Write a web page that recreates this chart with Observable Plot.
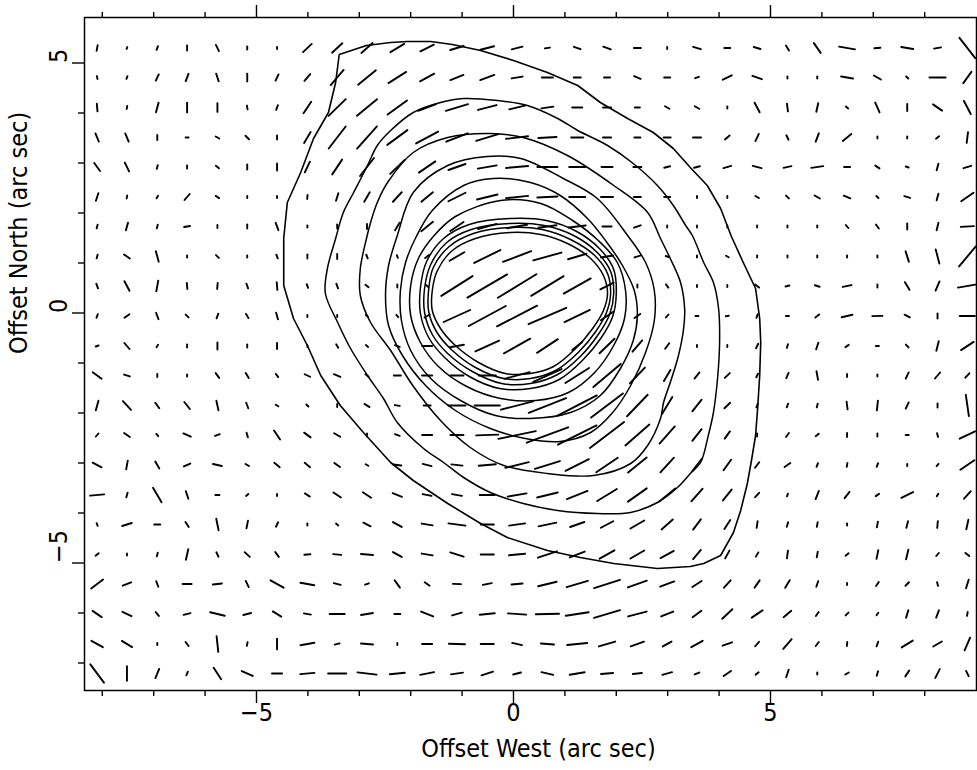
<!DOCTYPE html>
<html><head><meta charset="utf-8">
<script src="https://cdn.jsdelivr.net/npm/d3@7"></script>
<script src="https://cdn.jsdelivr.net/npm/@observablehq/plot@0.6"></script>
<style>html,body{margin:0;padding:0;background:#fff}svg{display:block}</style>
</head><body><div id="chart"></div>
<script>
// Vector grid positions (arc sec)
const gridX = [-8.10,-7.52,-6.93,-6.35,-5.76,-5.18,-4.60,-4.01,-3.43,-2.85,-2.26,-1.68,-1.10,-0.51,0.07,0.66,1.24,1.82,2.41,2.99,3.57,4.16,4.74,5.33,5.91,6.49,7.08,7.66,8.25,8.83];
const gridY = [5.30,4.71,4.11,3.51,2.92,2.32,1.73,1.13,0.54,-0.06,-0.66,-1.25,-1.85,-2.44,-3.04,-3.64,-4.23,-4.83,-5.42,-6.02,-6.62,-7.21];

// Position angle of each vector (deg, clockwise from north as drawn), one row per gridY
const angles = [
[10,20,20,0,-25,0,0,46,47,48,58,63,73,75,76,80,-70,-70,90,0,-72,90,-73,-30,-34,-80,85,-80,80,-37],
[-15,20,25,20,-18,0,25,40,40,50,57,61,68,69,80,90,90,90,-68,90,70,63,-70,0,0,-80,-60,-45,90,35],
[-5,10,15,0,0,-10,20,33,45,50,53,69,73,75,76,82,90,90,90,-60,-60,0,-27,-7,12,-50,-23,0,-55,-27],
[-22,-22,0,90,-60,-45,0,30,37,41,53,61,68,73,83,87,90,90,90,90,90,50,25,-25,20,50,0,0,50,7],
[-35,-25,15,0,-50,0,0,25,33,37,45,55,70,80,85,90,90,90,90,75,75,73,-75,78,82,90,-55,-70,15,72],
[18,10,30,40,-55,0,0,5,17,30,42,50,63,76,84,87,90,90,90,90,0,0,-60,-45,-60,-68,-45,-72,15,54],
[15,15,15,80,0,0,-20,0,0,0,30,50,55,74,80,82,83,90,70,0,0,0,0,0,0,-40,-35,0,13,87],
[15,-55,-15,0,-45,0,-20,0,0,-20,-20,50,59,63,69,74,73,80,72,-70,0,-60,0,0,0,0,0,-17,-14,39],
[-20,-27,10,-5,5,-20,-5,-20,-20,-50,0,-50,57,59,58,58,60,63,0,-35,0,0,-50,75,-72,78,0,-30,23,80],
[20,55,-20,-45,20,-30,-15,0,0,-45,-40,60,65,61,62,66,64,55,55,40,90,80,20,90,50,77,88,-62,0,90],
[70,-40,30,0,0,0,0,0,-30,-50,-70,90,80,65,60,56,50,45,40,35,0,0,25,15,18,55,90,-42,14,56],
[-53,-72,0,0,-35,-30,-35,-65,-68,-50,90,90,90,90,75,65,57,49,43,30,38,45,25,22,-10,0,0,25,40,42],
[15,-42,-35,-38,-12,-20,-60,-45,0,-57,-80,90,90,90,75,68,62,52,43,31,38,45,20,20,15,-7,6,25,0,-8],
[40,-55,-40,-67,70,-15,-33,-53,-60,0,-70,90,90,88,78,69,63,52,48,41,38,35,0,35,50,0,0,90,-15,64],
[-62,10,-30,65,-77,-58,-50,-50,-53,-60,-83,-75,-83,85,76,72,63,55,50,42,37,35,37,55,20,10,20,0,40,55],
[85,15,-30,-18,90,50,0,-57,-55,-55,-68,-78,-80,90,80,76,68,58,54,50,41,38,42,20,21,37,55,63,30,41],
[-20,72,90,-33,-11,11,25,0,-50,-63,-60,-80,-82,90,82,78,70,62,59,48,36,32,8,15,10,0,10,14,5,12],
[50,0,15,12,-25,-47,-35,85,-85,-85,-60,-80,-72,90,84,71,68,60,59,61,40,28,30,7,10,50,11,13,40,-50],
[52,67,-20,90,83,-25,-60,-80,-75,68,-35,-54,-88,79,85,76,73,72,70,69,57,41,34,30,18,0,33,45,-15,17],
[-55,-64,-38,75,-76,75,-58,-80,90,80,90,-67,73,84,-86,89,81,73,75,67,53,46,55,49,33,45,35,16,20,10],
[-60,-58,0,-37,-6,10,0,80,75,-85,0,90,-88,90,-77,-85,84,73,70,60,60,70,40,40,37,5,20,58,59,23],
[-36,0,22,22,-32,-65,90,85,90,-83,84,79,82,72,75,-77,80,85,84,74,68,54,50,18,0,60,15,33,26,-25]
];

// Vector lengths (polarization, arbitrary units), one row per gridY
const lengths = [
[6,2,4,5,7,3,2,12,14,15,16,15,14,14,11,5,7,8,7,2,8,6,7,6,12,16,6,12,7,26],
[3,3,7,8,8,8,7,9,20,23,21,16,14,15,11,11,7,6,7,6,4,10,10,2,2,12,8,3,16,14],
[8,3,10,10,9,4,5,14,24,26,24,19,23,19,16,12,10,8,5,5,5,2,11,8,9,3,11,7,11,15],
[9,9,5,3,4,5,4,13,28,30,25,25,23,23,22,18,12,8,6,7,8,6,8,5,9,11,2,2,4,11],
[10,10,4,3,4,5,7,12,18,23,20,20,18,19,22,20,16,11,8,6,6,8,9,8,12,6,5,3,7,8],
[8,3,3,8,4,2,2,4,8,11,13,15,19,21,22,20,16,12,7,6,2,2,4,4,6,7,3,6,7,15],
[4,8,4,6,3,4,8,2,4,5,9,15,16,19,20,18,17,9,7,2,2,2,2,2,2,4,5,6,8,13],
[4,7,11,2,4,2,4,4,5,4,3,5,17,29,30,29,19,12,6,3,2,3,2,2,2,2,2,11,15,26],
[5,11,11,6,6,5,8,4,5,4,3,3,37,46,45,38,31,15,3,4,2,2,5,4,5,9,3,9,10,19],
[4,6,7,4,5,5,7,2,2,3,3,6,29,42,45,41,28,15,7,4,3,3,4,3,5,11,10,6,5,15],
[3,8,3,3,7,3,6,2,4,3,5,10,14,26,30,25,13,21,15,7,2,2,5,4,7,4,3,4,10,15],
[11,6,3,2,6,6,4,6,7,4,7,10,13,17,26,31,28,36,22,13,8,7,4,6,9,3,2,7,8,6],
[10,12,7,9,10,6,3,3,3,6,5,7,17,25,33,40,44,40,30,20,15,8,4,4,4,8,10,7,4,22],
[4,7,3,8,5,5,11,8,7,3,5,10,13,22,38,44,43,43,32,23,15,9,3,5,4,4,3,3,4,17],
[10,9,8,7,9,4,7,7,7,3,8,9,11,17,24,26,26,26,24,20,16,13,7,7,4,4,4,2,3,17],
[14,5,17,8,4,3,2,6,9,10,10,9,10,15,19,21,22,23,23,21,17,14,6,3,9,8,4,13,3,10],
[3,10,6,6,12,8,5,2,3,8,10,11,17,13,16,18,15,14,16,15,13,11,7,5,5,2,6,7,7,10],
[4,2,4,11,5,7,6,6,8,12,10,11,14,13,16,20,16,17,16,15,12,9,5,8,6,4,9,10,4,5],
[15,9,6,9,9,7,15,14,7,4,9,6,8,9,11,19,22,27,20,15,11,10,9,9,6,2,5,5,4,9],
[11,10,5,7,15,8,10,7,15,12,6,13,10,15,18,23,23,27,19,13,11,14,13,10,5,4,3,8,8,4],
[13,12,2,5,16,4,11,14,5,12,2,10,16,13,10,13,20,17,14,10,13,10,6,13,5,4,5,13,10,14],
[23,15,10,4,14,12,10,14,18,19,15,14,12,12,8,12,15,12,9,10,5,9,4,8,2,4,5,7,10,6]
];
const arcsecPerUnit = 1 / 51; // drawn vector length per polarization unit

// Intensity contours, outermost first: [x, y] in arc sec
const contour1 = [[-3.39,5.17],[-2.86,5.35],[-2.39,5.41],[-2.06,5.43],[-1.61,5.43],[-1.19,5.37],[-0.64,5.25],[0,5.05],[0.66,4.81],[1.25,4.55],[1.69,4.21],[2.22,3.89],[2.72,3.61],[3.11,3.29],[3.44,2.91],[3.77,2.55],[4.03,2.09],[4.24,1.53],[4.47,1.01],[4.71,0.49],[4.79,-0.11],[4.81,-0.59],[4.79,-1.25],[4.75,-1.91],[4.71,-2.45],[4.63,-2.95],[4.55,-3.41],[4.42,-3.95],[4.28,-4.39],[4.03,-4.85],[3.70,-5.01],[3.44,-5.07],[2.80,-5.11],[1.95,-5.01],[1.30,-4.89],[0.66,-4.75],[-0.12,-4.49],[-0.64,-4.21],[-1.28,-3.81],[-1.95,-3.35],[-2.39,-2.99],[-2.92,-2.39],[-3.37,-1.85],[-3.75,-1.25],[-4.01,-0.65],[-4.28,-0.11],[-4.47,0.55],[-4.47,1.49],[-4.40,2.21],[-4.14,2.81],[-3.89,3.49],[-3.60,4.01],[-3.46,4.61]];
const contour2 = [[-3.46,1.49],[-3.31,2.01],[-3.11,2.41],[-2.84,2.95],[-2.65,3.35],[-2.39,3.65],[-1.95,4.01],[-1.42,4.21],[-0.97,4.29],[-0.31,4.25],[0.27,4.15],[0.86,3.89],[1.25,3.65],[1.83,3.35],[2.33,2.99],[2.80,2.55],[3.11,2.15],[3.35,1.75],[3.48,1.55],[3.70,1.01],[3.89,0.61],[3.99,0.09],[4.01,-0.59],[3.97,-1.31],[3.89,-1.99],[3.79,-2.45],[3.64,-2.99],[3.44,-3.21],[3.19,-3.49],[2.80,-3.79],[2.28,-3.99],[1.63,-4.01],[0.86,-3.95],[0.19,-3.81],[-0.45,-3.59],[-0.97,-3.29],[-1.36,-2.99],[-1.75,-2.71],[-2.26,-2.19],[-2.53,-1.71],[-2.84,-1.25],[-3.17,-0.71],[-3.42,-0.19],[-3.66,0.39],[-3.62,0.89]];
const contour3 = [[-0.45,3.59],[0.19,3.51],[1.05,3.15],[1.95,2.55],[2.61,2.01],[2.86,1.49],[3.05,1.09],[3.25,0.61],[3.33,0.09],[3.31,-0.31],[3.21,-0.85],[3.05,-1.39],[2.92,-1.79],[2.86,-2.11],[2.61,-2.65],[2.28,-3.01],[1.56,-3.25],[0.66,-3.21],[-0.19,-3.05],[-0.84,-2.69],[-1.42,-2.15],[-1.96,-1.45],[-2.39,-0.75],[-2.78,-0.19],[-2.98,0.35],[-2.98,0.89],[-2.86,1.49],[-2.78,1.81],[-2.65,2.21],[-2.45,2.61],[-1.95,3.21],[-1.28,3.51]];
const contour4 = [[-0.51,3.13],[0.14,3.09],[0.97,2.69],[1.63,2.29],[2.22,1.55],[2.57,1.01],[2.74,0.45],[2.74,-0.15],[2.57,-0.79],[2.28,-1.45],[1.93,-1.99],[1.50,-2.39],[0.91,-2.57],[0.23,-2.51],[-0.45,-2.31],[-1.13,-1.95],[-1.71,-1.45],[-2.16,-0.85],[-2.43,-0.25],[-2.49,0.35],[-2.43,0.95],[-2.26,1.55],[-1.95,2.41],[-1.28,2.95]];
const contour5 = [[-0.39,2.69],[0.33,2.61],[0.91,2.35],[1.44,1.89],[1.79,1.45],[2.12,0.95],[2.35,0.45],[2.41,-0.05],[2.33,-0.55],[2.08,-1.11],[1.69,-1.65],[1.11,-1.99],[0.33,-2.11],[-0.35,-2.05],[-1.03,-1.75],[-1.61,-1.31],[-2.00,-0.75],[-2.18,-0.15],[-2.20,0.45],[-2.10,1.01],[-1.91,1.49],[-1.58,2.05],[-0.97,2.55]];
const contour6 = [[-0.25,2.25],[0.53,2.19],[1.15,1.85],[1.65,1.45],[2.02,1.01],[2.18,0.45],[2.16,-0.11],[1.95,-0.65],[1.58,-1.19],[1.07,-1.59],[0.43,-1.75],[-0.25,-1.71],[-0.91,-1.47],[-1.46,-1.07],[-1.81,-0.59],[-2.00,-0.05],[-2.00,0.55],[-1.85,1.09],[-1.56,1.53],[-1.13,1.93]];
const contour7 = [[-0.06,1.89],[0.64,1.85],[1.23,1.63],[1.69,1.27],[1.95,0.87],[2.00,0.39],[1.93,-0.07],[1.71,-0.49],[1.34,-0.95],[0.89,-1.33],[0.33,-1.51],[-0.27,-1.51],[-0.86,-1.27],[-1.34,-0.89],[-1.65,-0.49],[-1.81,-0.01],[-1.81,0.51],[-1.69,1.03],[-1.36,1.49],[-0.86,1.77]];
const contour8 = [[-0.06,1.79],[0.60,1.75],[1.17,1.55],[1.63,1.21],[1.89,0.83],[1.95,0.39],[1.87,-0.03],[1.65,-0.43],[1.30,-0.87],[0.86,-1.23],[0.33,-1.41],[-0.23,-1.41],[-0.80,-1.17],[-1.28,-0.81],[-1.58,-0.43],[-1.73,0.01],[-1.73,0.49],[-1.61,0.97],[-1.30,1.41],[-0.82,1.67]];
const contour9 = [[-0.06,1.71],[0.56,1.67],[1.11,1.47],[1.58,1.15],[1.83,0.79],[1.89,0.39],[1.81,0.01],[1.60,-0.37],[1.26,-0.79],[0.82,-1.15],[0.33,-1.31],[-0.19,-1.31],[-0.74,-1.09],[-1.21,-0.73],[-1.50,-0.37],[-1.65,0.03],[-1.65,0.47],[-1.56,0.91],[-1.25,1.33],[-0.78,1.59]];
const contour10 = [[-0.06,1.61],[0.53,1.57],[1.05,1.39],[1.50,1.09],[1.75,0.75],[1.83,0.39],[1.75,0.05],[1.54,-0.31],[1.21,-0.71],[0.78,-1.07],[0.33,-1.21],[-0.16,-1.21],[-0.68,-0.99],[-1.13,-0.65],[-1.42,-0.31],[-1.58,0.05],[-1.58,0.45],[-1.48,0.85],[-1.19,1.25],[-0.74,1.49]];
const smoothContours = [contour2,contour3,contour4,contour5,contour6,contour7,contour8,contour9,contour10];

const majorTicks = [-5, 0, 5];
const majorLabels = ["\u22125", "0", "5"];
const minorTicksX = [-8,-7,-6,-4,-3,-2,-1,1,2,3,4,6,7,8];
const minorTicksY = [-7,-6,-4,-3,-2,-1,1,2,3,4];
const xTitle = "Offset West (arc sec)";
const yTitle = "Offset North (arc sec)";

const vectors = [];
gridY.forEach((y, j) => gridX.forEach((x, k) => vectors.push({x, y, a: angles[j][k], p: lengths[j][k]})));
const hx = d => d.p * arcsecPerUnit / 2 * Math.sin(d.a * Math.PI / 180);
const hy = d => d.p * arcsecPerUnit / 2 * Math.cos(d.a * Math.PI / 180);
const outer = contour1.map(([x, y]) => ({x, y}));
const inner = smoothContours.flatMap((c, i) => c.map(([x, y]) => ({x, y, level: i})));

const font = "'Liberation Sans Narrow','DejaVu Sans Condensed','Liberation Sans',sans-serif";
const blank = () => "";
const chart = Plot.plot({
  width: 977, height: 770,
  marginLeft: 84, marginRight: 1, marginTop: 17, marginBottom: 80,
  x: {domain: [-8.346, 9.008]},
  y: {domain: [-7.55, 5.91]},
  style: {fontFamily: font, background: "#fff", color: "#000", overflow: "visible"},
  marks: [
    Plot.line(outer, {x: "x", y: "y", curve: "linear-closed", stroke: "#000", strokeWidth: 1.6}),
    Plot.line(inner, {x: "x", y: "y", z: "level", curve: "catmull-rom-closed", stroke: "#000", strokeWidth: 1.5}),
    Plot.link(vectors, {
      x1: d => d.x - hx(d), y1: d => d.y - hy(d),
      x2: d => d.x + hx(d), y2: d => d.y + hy(d),
      stroke: "#000", strokeWidth: 1.9, strokeLinecap: "round"
    }),
    Plot.frame({stroke: "#000", strokeWidth: 1.5}),
    Plot.axisX({anchor: "bottom", ticks: majorTicks, tickSize: 13, tickFormat: blank, label: null, strokeWidth: 1.4}),
    Plot.axisX({anchor: "bottom", ticks: minorTicksX, tickSize: 6, tickFormat: blank, label: null, strokeWidth: 1.4}),
    Plot.axisX({anchor: "top", ticks: majorTicks, tickSize: 13, tickFormat: blank, label: null, strokeWidth: 1.4}),
    Plot.axisX({anchor: "top", ticks: minorTicksX, tickSize: 6, tickFormat: blank, label: null, strokeWidth: 1.4}),
    Plot.axisY({anchor: "left", ticks: majorTicks, tickSize: 12, tickFormat: blank, label: null, strokeWidth: 1.4}),
    Plot.axisY({anchor: "left", ticks: minorTicksY, tickSize: 6, tickFormat: blank, label: null, strokeWidth: 1.4}),
    Plot.text(majorTicks, {x: d => d, frameAnchor: "bottom", dy: 22, text: (d, i) => majorLabels[i], fontSize: 25, lineAnchor: "middle"}),
    Plot.text(majorTicks, {y: d => d, frameAnchor: "left", dx: -26, rotate: -90, text: (d, i) => majorLabels[i], fontSize: 25, lineAnchor: "middle"}),
    Plot.text([xTitle], {frameAnchor: "bottom", dx: 8, dy: 58, text: d => d, fontSize: 25, lineAnchor: "middle"}),
    Plot.text([yTitle], {frameAnchor: "left", dx: -66, rotate: -90, text: d => d, fontSize: 25, lineAnchor: "middle"})
  ]
});
document.getElementById("chart").append(chart);
</script>
</body></html>
